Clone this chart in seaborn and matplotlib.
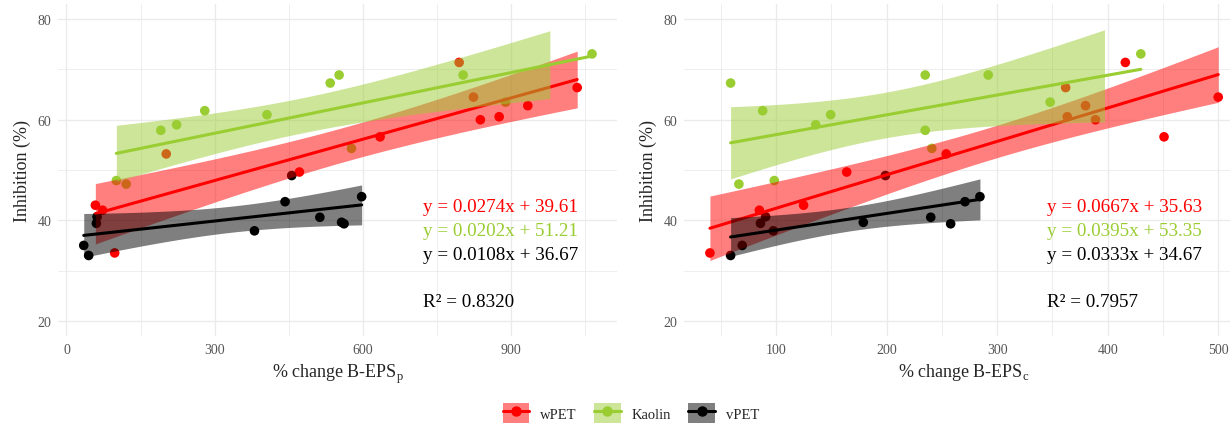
import numpy as np
import pandas as pd
import matplotlib.pyplot as plt
import seaborn as sns
from matplotlib.patches import Patch
from matplotlib.lines import Line2D
from matplotlib.ticker import MultipleLocator

# 数据
groups = ['wPET', 'Kaolin', 'vPET']
colors = {'wPET': '#FF0000', 'Kaolin': '#9ACD32', 'vPET': '#000000'}

wpet_inh = [33.5, 42.0, 43.0, 49.6, 53.2, 56.6, 60.0, 60.6, 62.8, 64.5, 66.4, 71.4]
wpet_eps_p = [97.6, 73, 58.5, 471.6, 202, 635, 838, 876, 934, 824, 1034, 795]
wpet_eps_c = [40.3, 85, 125, 164, 254, 451, 389, 363.5, 380, 500, 362, 416]

kaolin_inh = [47.2, 47.9, 54.3, 57.9, 59.0, 61.0, 61.8, 63.5, 67.3, 68.9, 68.9, 73.1]
kaolin_eps_p = [121, 101, 577, 191, 223, 406, 280, 889, 534, 552, 803, 1064]
kaolin_eps_c = [66.5, 98.5, 241, 235, 136, 149.5, 88, 348, 59, 235, 292, 430]

vpet_inh = [33.0, 35.0, 39.4, 40.7, 37.9, 39.6, 48.9, 40.6, 39.3, 43.7, 44.7]
vpet_eps_p = [45, 35, 60.6, 62, 380.6, 557, 456, 513, 562, 442.6, 597.6]
vpet_eps_c = [59, 69.5, 86, 90.7, 97.6, 179, 199, 240, 258, 271, 284.5]

eq_p = ['y = 0.0274x + 39.61', 'y = 0.0202x + 51.21', 'y = 0.0108x + 36.67']
eq_c = ['y = 0.0667x + 35.63', 'y = 0.0395x + 53.35', 'y = 0.0333x + 34.67']
r2_p = 'R² = 0.8320'
r2_c = 'R² = 0.7957'

frames = []
for g, inh, p, c in [('wPET', wpet_inh, wpet_eps_p, wpet_eps_c),
                     ('Kaolin', kaolin_inh, kaolin_eps_p, kaolin_eps_c),
                     ('vPET', vpet_inh, vpet_eps_p, vpet_eps_c)]:
    frames.append(pd.DataFrame({'group': g, 'inh': inh, 'eps_p': p, 'eps_c': c}))
df = pd.concat(frames, ignore_index=True)

t975 = {9: 2.262, 10: 2.228}
band_cap = 78  # 原图中超出上限的置信带被截掉

sns.set_style('white')
plt.rcParams['font.family'] = ['Liberation Serif', 'DejaVu Serif']
plt.rcParams['mathtext.fontset'] = 'custom'
plt.rcParams['mathtext.rm'] = 'Liberation Serif'

fig = plt.figure(figsize=(12.3, 4.27), dpi=100)
ax1 = fig.add_axes([0.0474, 0.211, 0.4546, 0.777])
ax2 = fig.add_axes([0.5565, 0.211, 0.4546, 0.777])

panels = [
    (ax1, 'eps_p', '% change B-EPS$_\\mathrm{p}$', (-16.5, 1115.5), 300, 150, 722, eq_p, r2_p),
    (ax2, 'eps_c', '% change B-EPS$_\\mathrm{c}$', (17.3, 523), 100, 50, 345, eq_c, r2_c),
]

for ax, xcol, xlabel, xlim, major, minor, text_x, eqs, r2 in panels:
    sns.scatterplot(data=df, x=xcol, y='inh', hue='group', palette=colors, s=48,
                    linewidth=0, ax=ax, legend=False, zorder=1)
    for k, g in enumerate(groups):
        sub = df[df['group'] == g]
        x = sub[xcol].to_numpy(float)
        y = sub['inh'].to_numpy(float)
        b, a = np.polyfit(x, y, 1)
        xs = np.linspace(x.min(), x.max(), 80)
        fit = a + b * xs
        n = len(x)
        s = np.sqrt(((y - (a + b * x)) ** 2).sum() / (n - 2))
        se = s * np.sqrt(1 / n + (xs - x.mean()) ** 2 / ((x - x.mean()) ** 2).sum())
        lo, hi = fit - t975[n - 2] * se, fit + t975[n - 2] * se
        ax.fill_between(xs, lo, hi, where=hi <= band_cap, color=colors[g], alpha=0.5,
                        lw=0, zorder=2 + 2 * k)
        sns.regplot(x=x, y=y, scatter=False, ci=None, color=colors[g], ax=ax,
                    line_kws=dict(lw=2.2, zorder=3 + 2 * k))

    ax.set_xlim(xlim)
    ax.set_ylim(17, 83)
    ax.xaxis.set_major_locator(MultipleLocator(major))
    ax.xaxis.set_minor_locator(MultipleLocator(minor))
    ax.yaxis.set_major_locator(MultipleLocator(20))
    ax.yaxis.set_minor_locator(MultipleLocator(10))
    ax.grid(which='major', color='#EBEBEB', lw=1.0)
    ax.grid(which='minor', color='#EBEBEB', lw=0.6)
    ax.set_axisbelow(True)
    ax.tick_params(which='both', length=0, labelsize=10, labelcolor='#555555', pad=5)
    for sp in ax.spines.values():
        sp.set_visible(False)
    ax.set_xlabel(xlabel, fontsize=13, labelpad=4)
    ax.set_ylabel('Inhibition (%)', fontsize=13, labelpad=5)

    for yy, txt, g in zip([42.7, 37.9, 33.1], eqs, groups):
        ax.text(text_x, yy, txt, color=colors[g], fontsize=13.8, va='center')
    ax.text(text_x, 23.9, r2, color='black', fontsize=13.8, va='center')

handles = [(Patch(facecolor=colors[g], alpha=0.5, edgecolor='none'),
            Line2D([], [], color=colors[g], lw=2.2, marker='o', ms=6.5)) for g in groups]
fig.legend(handles, groups, loc='center', bbox_to_anchor=(0.513, 0.03), ncol=3,
           frameon=False, fontsize=10.5, handlelength=1.8, handleheight=1.7,
           handletextpad=0.75, columnspacing=1.2)

fig.savefig('out.png', dpi=100)
